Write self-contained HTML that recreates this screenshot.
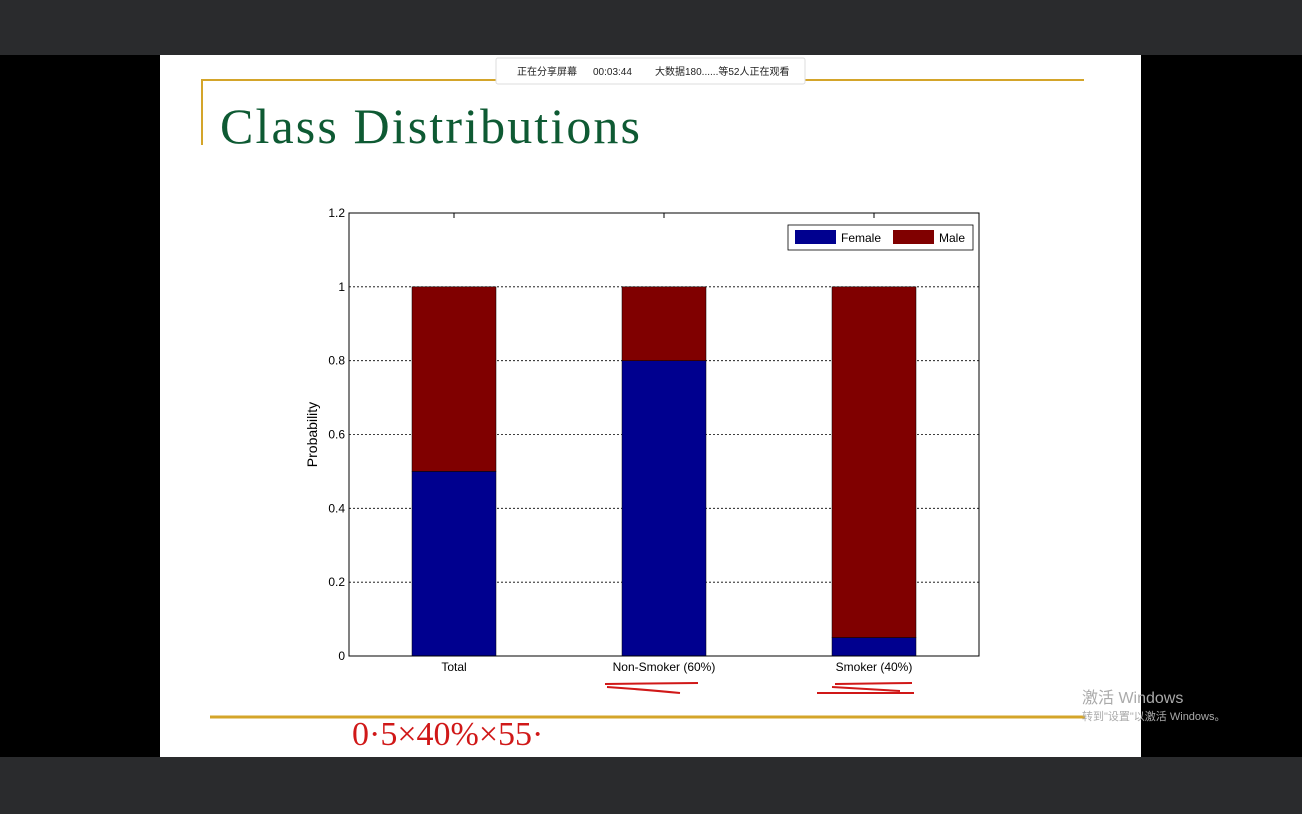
<!DOCTYPE html>
<html><head><meta charset="utf-8"><style>
html,body{margin:0;padding:0;width:1302px;height:814px;overflow:hidden;background:#000;font-family:"Liberation Sans","Noto Sans CJK SC",sans-serif}
#top{position:absolute;left:0;top:0;width:1302px;height:55px;background:#2a2b2d}
#bot{position:absolute;left:0;top:757px;width:1302px;height:57px;background:#2a2b2d}
#slide{position:absolute;left:160px;top:55px;width:981px;height:702px;background:#fff}
</style></head><body>
<div id="top"></div>
<div id="bot"></div>
<div id="slide"></div>
<svg id="svg" width="1302" height="814" style="position:absolute;left:0;top:0">
<g>
<line x1="201" y1="80" x2="1084" y2="80" stroke="#d4a52a" stroke-width="2"/>
<line x1="202" y1="80" x2="202" y2="145" stroke="#d4a52a" stroke-width="2"/>
<line x1="210" y1="717" x2="1085" y2="717" stroke="#d4a52a" stroke-width="3"/>
</g>
<text x="220" y="143" font-family="Liberation Serif, serif" font-size="50" fill="#0e5a33" textLength="420" lengthAdjust="spacing">Class Distributions</text>
<g>
<rect x="496" y="58" width="309" height="26" fill="#fff" stroke="#ddd" rx="2"/>
<text x="517" y="75" font-size="10" fill="#222">正在分享屏幕</text>
<text x="593" y="75" font-size="10" fill="#222">00:03:44</text>
<text x="655" y="75" font-size="10" fill="#222">大数据180......等52人正在观看</text>
</g>
<g id="plot"></g>
<g stroke="#d01818" stroke-width="2" fill="none">
<path d="M605 684 L698 683 M607 687 Q650 690 680 693"/>
<path d="M835 684 L912 683 M817 693 L914 693 M832 687 L900 691"/>
</g>
<text x="352" y="745" font-size="34" fill="#d01818" font-family="Liberation Serif, serif">0·5×40%×55·</text>
<text x="1082" y="703" font-size="16" fill="#aaa">激活 Windows</text>
<text x="1082" y="720" font-size="11" fill="#aaa">转到"设置"以激活 Windows。</text>
</svg>
<script>
const categories=["Total","Non-Smoker (60%)","Smoker (40%)"];
const female=[0.5,0.8,0.05];
const male=[0.5,0.2,0.95];
const yTicks=[0,0.2,0.4,0.6,0.8,1,1.2];
const yTickLabels=["0","0.2","0.4","0.6","0.8","1","1.2"];
const NS="http://www.w3.org/2000/svg";
const L=349,R=979,T=213,B=656,YMAX=1.2;
const y=v=>B-(v/YMAX)*(B-T);
const band=(R-L)/categories.length;
const xc=i=>L+band*(i+0.5);
const BW=84;
const g=document.getElementById('plot');
function mk(tag,attrs,parent){const e=document.createElementNS(NS,tag);for(const k in attrs)e.setAttribute(k,attrs[k]);(parent||g).appendChild(e);return e;}
mk('rect',{x:L,y:T,width:R-L,height:B-T,fill:'#fff',stroke:'none'});
yTicks.forEach((t,i)=>{
  if(t>0&&t<YMAX){const ln=mk('line',{x1:L,x2:R,y1:y(t),y2:y(t),stroke:'#000','stroke-width':0.8,'stroke-dasharray':'2,2'});
  
  }
  const tx=mk('text',{x:L-4,y:y(t)+4,'text-anchor':'end','font-size':12,fill:'#000'});tx.textContent=yTickLabels[i];
  
  
});
categories.forEach((c,i)=>{
  const f=mk('rect',{x:xc(i)-BW/2,y:y(female[i]),width:BW,height:B-y(female[i]),fill:'#00008f',stroke:'#000','stroke-width':0.5});
  
  
  const m=mk('rect',{x:xc(i)-BW/2,y:y(female[i]+male[i]),width:BW,height:y(female[i])-y(female[i]+male[i]),fill:'#800000',stroke:'#000','stroke-width':0.5});
  
  
  mk('line',{x1:xc(i),x2:xc(i),y1:T,y2:T+5,stroke:'#000'});
  const tx=mk('text',{x:xc(i),y:B+15,'text-anchor':'middle','font-size':12,fill:'#000'});tx.textContent=c;
  
  
});
mk('rect',{x:L,y:T,width:R-L,height:B-T,fill:'none',stroke:'#000','stroke-width':1});
const yt=mk('text',{x:317,y:(T+B)/2,'text-anchor':'middle','font-size':14,fill:'#000',transform:`rotate(-90 317 ${(T+B)/2})`});yt.textContent='Probability';


const lg=mk('g',{});


mk('rect',{x:788,y:225,width:185,height:25,fill:'#fff',stroke:'#000','stroke-width':0.8},lg);
mk('rect',{x:795,y:230,width:41,height:14,fill:'#00008f'},lg);
const t1=mk('text',{x:841,y:242,'font-size':12},lg);t1.textContent='Female';
mk('rect',{x:893,y:230,width:41,height:14,fill:'#800000'},lg);
const t2=mk('text',{x:939,y:242,'font-size':12},lg);t2.textContent='Male';
</script>
</body></html>
